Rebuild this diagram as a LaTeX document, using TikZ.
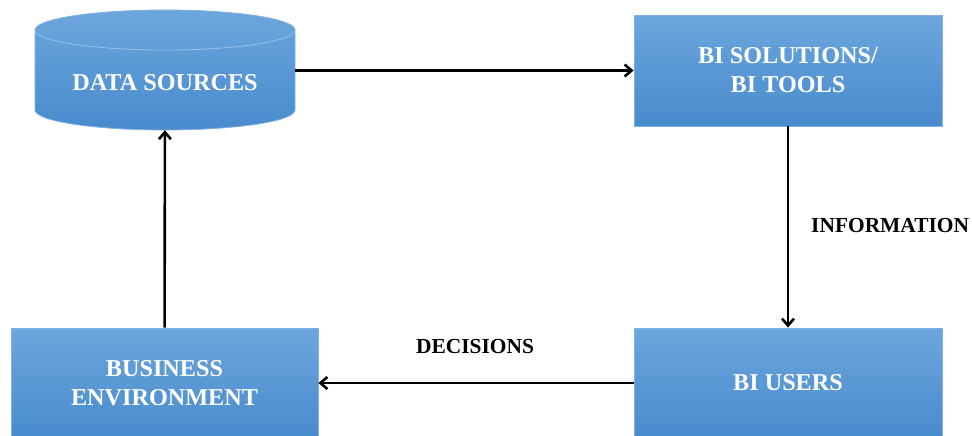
\documentclass[tikz,border=0pt]{standalone}
\usepackage{fontspec}
\setmainfont{Liberation Serif}
\usepackage{tikz}
\usetikzlibrary{arrows.meta,shapes}

\definecolor{boxtop}{RGB}{108,166,221}
\definecolor{boxbot}{RGB}{72,139,205}
\definecolor{boxline}{RGB}{128,178,226}

\begin{document}
\begin{tikzpicture}[>={Straight Barb[length=7bp,width=12bp]},
  bibox/.style={draw=boxline,line width=0.8bp,top color=boxtop,bottom color=boxbot,
    text=white,font=\fontsize{24.3}{29}\selectfont\bfseries,align=center,inner sep=0pt},
  cyltext/.style={text=white,font=\fontsize{24.3}{29}\selectfont\bfseries,inner sep=0pt},
  flow/.style={->,line width=2.6bp},
  flowlabel/.style={font=\fontsize{21.5}{25}\selectfont\bfseries,inner sep=0pt}]

\useasboundingbox (0bp,0bp) rectangle (972bp,-436bp);

% data store drawn by hand
\shade [top color=boxtop,bottom color=boxbot,draw=boxline,line width=0.8bp]
  (35bp,-30bp) -- (35bp,-110bp) arc[start angle=180,end angle=360,x radius=130bp,y radius=20bp]
  -- (295bp,-30bp) arc[start angle=0,end angle=180,x radius=130bp,y radius=20bp] -- cycle;
\draw [boxline!80!white,line width=0.8bp] (35bp,-30bp) arc[start angle=180,end angle=360,x radius=130bp,y radius=20bp];
\node (DS) at (165bp,-83bp)[cyltext,minimum width=260bp,minimum height=94bp] {DATA SOURCES};

\node (BIT) at (788bp,-70.5bp)[bibox,rectangle,minimum width=308bp,minimum height=111bp] {BI SOLUTIONS/\\BI TOOLS};
\node (BIU) at (788bp,-383bp)[bibox,rectangle,minimum width=308bp,minimum height=110bp] {BI USERS};
\node (BE) at (164.5bp,-383bp)[bibox,rectangle,minimum width=307bp,minimum height=110bp] {BUSINESS\\ENVIRONMENT};

\node (INF) at (811bp,-226bp)[flowlabel,anchor=west] {INFORMATION};
\node (DEC) at (475bp,-347bp)[flowlabel] {DECISIONS};

\draw [flow] (DS.east |- BIT.west) -- (BIT);
\draw [flow] (BIT) -- (BIU);
\draw [flow] (BIU) -- (BE);
\draw [flow] (BE) -- (DS);
\end{tikzpicture}
\end{document}
